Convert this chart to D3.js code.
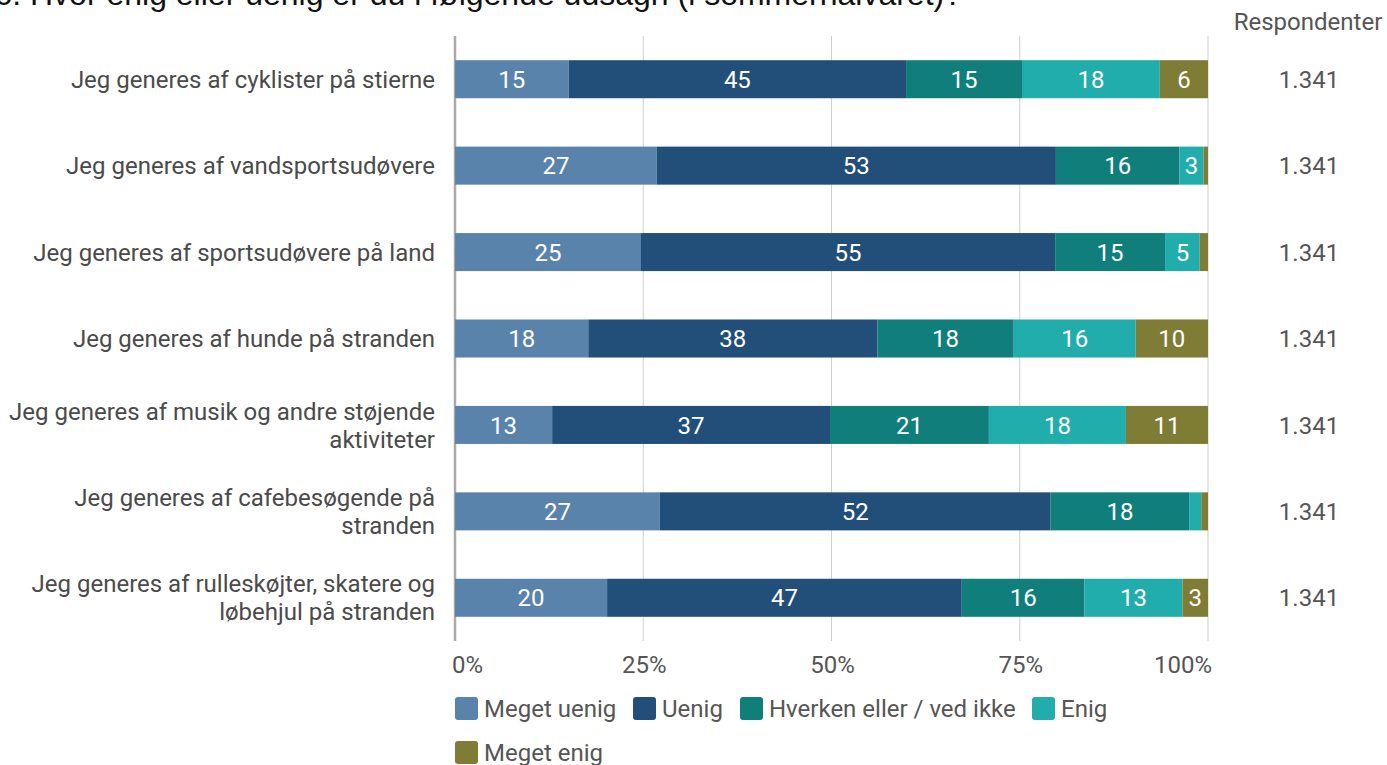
<!DOCTYPE html>
<html><head><meta charset="utf-8">
<script src="https://cdn.jsdelivr.net/npm/d3@7"></script>
<style>body{margin:0;background:#fff;font-family:Roboto,sans-serif}</style>
</head><body>
<svg id="c" width="1387" height="765"></svg>
<script>
const title = "16. Hvor enig eller uenig er du i følgende udsagn (i sommerhalvåret)?";
const categories = [
  ["Jeg generes af cyklister på stierne"],
  ["Jeg generes af vandsportsudøvere"],
  ["Jeg generes af sportsudøvere på land"],
  ["Jeg generes af hunde på stranden"],
  ["Jeg generes af musik og andre støjende", "aktiviteter"],
  ["Jeg generes af cafebesøgende på", "stranden"],
  ["Jeg generes af rulleskøjter, skatere og", "løbehjul på stranden"]
];
const seriesNames = ["Meget uenig", "Uenig", "Hverken eller / ved ikke", "Enig", "Meget enig"];
const megetUenig = [15.1, 26.8, 24.7, 17.7, 12.9, 27.2, 20.2];
const uenig      = [44.8, 53.0, 55.0, 38.4, 36.9, 51.9, 47.1];
const hverken    = [15.4, 16.4, 14.6, 18.1, 21.1, 18.4, 16.3];
const enig       = [18.3, 3.2, 4.6, 16.2, 18.2, 1.6, 13.0];
const megetEnig  = [6.4, 0.6, 1.1, 9.6, 10.9, 0.9, 3.4];
const respondenter = ["1.341","1.341","1.341","1.341","1.341","1.341","1.341"];
const tickValues = [0, 25, 50, 75, 100];
const colors = ["#5a83ac", "#224e7a", "#107f7c", "#20adac", "#7f7c36"];

const series = [megetUenig, uenig, hverken, enig, megetEnig];
const svg = d3.select("#c");
const x = d3.scaleLinear().domain([0, 100]).range([455, 1208]);
const y = d3.scaleBand().domain(d3.range(categories.length)).range([36, 641]).paddingInner(0.56).paddingOuter(0.28);
const FS = 24;

// title (cut off at top as in reference)
svg.append("text").attr("x", 962).attr("y", 5).attr("text-anchor", "end")
  .attr("font-family", "Liberation Sans, Arial, sans-serif")
  .attr("font-size", 32).attr("fill", "#111").text(title);

// grid
svg.append("g").selectAll("line").data(tickValues.slice(1)).join("line")
  .attr("x1", d => x(d)).attr("x2", d => x(d)).attr("y1", 36).attr("y2", 641)
  .attr("stroke", "#cfcfcf").attr("stroke-width", 1);
svg.append("line").attr("x1", x(0)).attr("x2", x(0)).attr("y1", 36).attr("y2", 641)
  .attr("stroke", "#aaa").attr("stroke-width", 2.5);

// stacked bars
const rows = categories.map((c, i) => {
  let acc = 0;
  return series.map((s, k) => { const o = {i, k, x0: acc, v: s[i]}; acc += s[i]; return o; });
});
const segs = rows.flat();
svg.append("g").selectAll("rect").data(segs).join("rect")
  .attr("x", d => x(d.x0)).attr("width", d => x(d.x0 + d.v) - x(d.x0))
  .attr("y", d => y(d.i)).attr("height", y.bandwidth())
  .attr("fill", d => colors[d.k]);
svg.append("g").selectAll("text").data(segs.filter(d => d.v >= 2.5)).join("text")
  .attr("x", d => x(d.x0 + d.v / 2)).attr("y", d => y(d.i) + y.bandwidth() / 2)
  .attr("dy", "0.36em").attr("text-anchor", "middle").attr("fill", "#fff")
  .attr("font-size", FS).text(d => Math.round(d.v));

// category labels
const cl = svg.append("g").selectAll("text").data(categories).join("text")
  .attr("text-anchor", "end").attr("font-size", FS).attr("fill", "#4a4a4a")
  .attr("transform", (d, i) => `translate(435,${y(i) + y.bandwidth() / 2})`);
cl.selectAll("tspan").data(d => d.map((t, j) => ({t, j, n: d.length}))).join("tspan")
  .attr("x", 0).attr("y", d => (d.j - (d.n - 1) / 2) * 28).attr("dy", "0.36em").text(d => d.t);

// respondenter
svg.append("text").attr("x", 1308).attr("y", 30).attr("text-anchor", "middle")
  .attr("font-size", FS).attr("fill", "#555").text("Respondenter");
svg.append("g").selectAll("text").data(respondenter).join("text")
  .attr("x", 1309).attr("y", (d, i) => y(i) + y.bandwidth() / 2).attr("dy", "0.36em")
  .attr("text-anchor", "middle").attr("font-size", FS).attr("fill", "#555").text(d => d);

// x ticks
svg.append("g").selectAll("text").data(tickValues).join("text")
  .attr("x", d => d === 0 ? x(d) - 3 : d === 100 ? x(d) + 4 : x(d) + 1)
  .attr("y", 673).attr("text-anchor", d => d === 0 ? "start" : d === 100 ? "end" : "middle")
  .attr("font-size", FS).attr("fill", "#555").text(d => d + "%");

// legend
const legendPos = [[455, 708], [633, 708], [740, 708], [1032, 708], [455, 752]];
const lg = svg.append("g").selectAll("g").data(seriesNames).join("g")
  .attr("transform", (d, i) => `translate(${legendPos[i][0]},${legendPos[i][1]})`);
lg.append("rect").attr("x", 0).attr("y", -11).attr("width", 23).attr("height", 23).attr("rx", 3)
  .attr("fill", (d, i) => colors[i]);
lg.append("text").attr("x", 29).attr("dy", "0.36em").attr("font-size", FS).attr("fill", "#555").text(d => d);
</script>
</body></html>
